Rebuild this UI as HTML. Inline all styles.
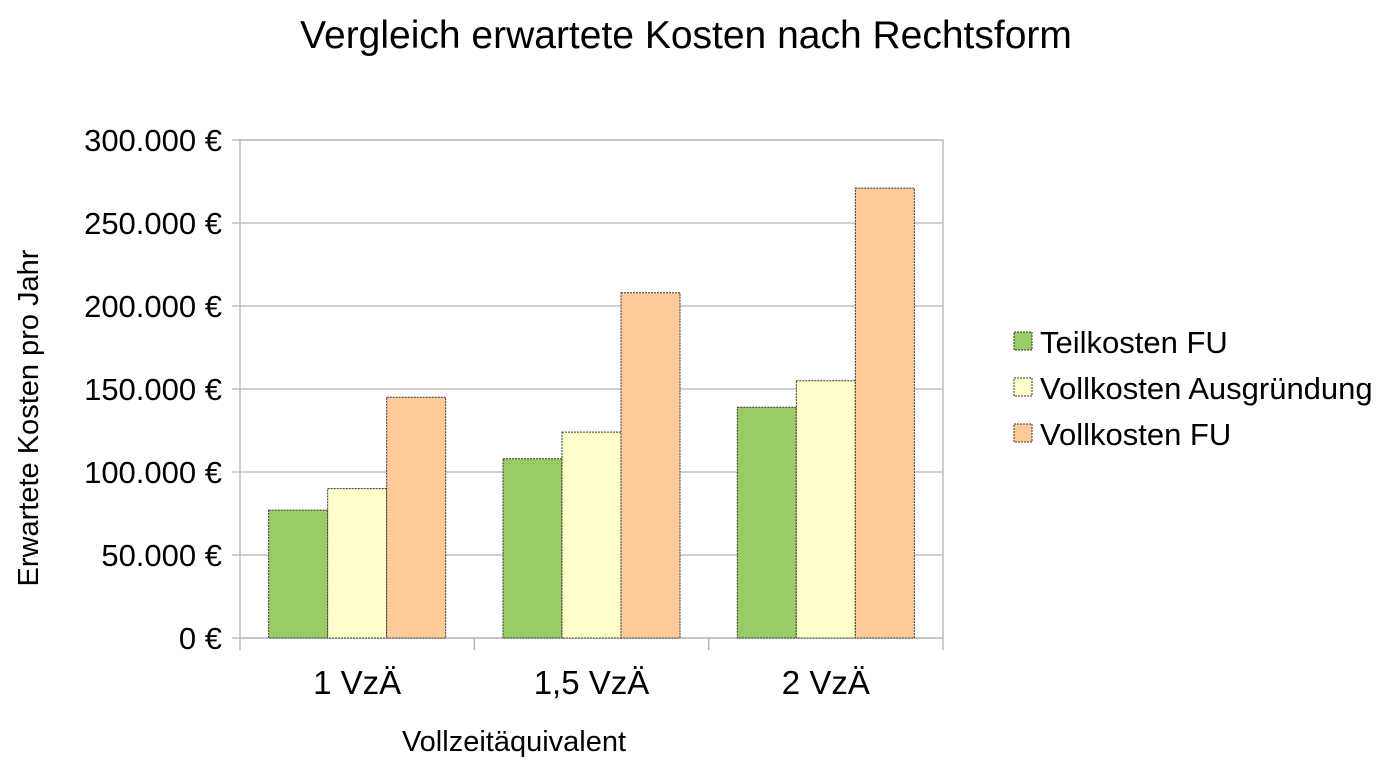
<!DOCTYPE html>
<html><head><meta charset="utf-8"><style>
body{margin:0;background:#fff;}
svg{display:block;font-family:"Liberation Sans",sans-serif;}
</style></head><body>
<svg id="chart" width="1389" height="776">
<text x="686" y="48" font-size="39" text-anchor="middle">Vergleich erwartete Kosten nach Rechtsform</text>
<text transform="translate(38,418) rotate(-90)" font-size="29" text-anchor="middle">Erwartete Kosten pro Jahr</text>
<text x="514" y="751" font-size="29" text-anchor="middle">Vollzeitäquivalent</text>
<g id="grid"></g><g id="bars"></g><g id="axes"></g><g id="legend"></g>
</svg>
<script>
const categories=["1 VzÄ","1,5 VzÄ","2 VzÄ"];
const seriesNames=["Teilkosten FU","Vollkosten Ausgründung","Vollkosten FU"];
const teilkostenFU=[77000,108000,139000];
const vollkostenAusgruendung=[90000,124000,155000];
const vollkostenFU=[145000,208000,271000];
const yTicks=[0,50000,100000,150000,200000,250000,300000];
const yTickLabels=["0 €","50.000 €","100.000 €","150.000 €","200.000 €","250.000 €","300.000 €"];
const colors=["#99cc66","#ffffcc","#ffcc99"];
const series=[teilkostenFU,vollkostenAusgruendung,vollkostenFU];
const NS="http://www.w3.org/2000/svg";
const X0=240,X1=943,Y0=638,Y1=140,YMAX=300000;
const y=v=>Y0-(v/YMAX)*(Y0-Y1);
const cw=(X1-X0)/categories.length;
const bw=59;
function mk(tag,attrs,parent){const e=document.createElementNS(NS,tag);for(const k in attrs)e.setAttribute(k,attrs[k]);parent.appendChild(e);return e;}
const grid=document.getElementById('grid'),bars=document.getElementById('bars'),axes=document.getElementById('axes'),legend=document.getElementById('legend');
yTicks.forEach((t,i)=>{
 const l=mk('line',{x1:X0-8,x2:X1,y1:y(t),y2:y(t),stroke:'#b3b3b3','stroke-width':1.3},grid);
 
 
 const tx=mk('text',{x:222,y:y(t)+11,'font-size':31,'text-anchor':'end'},axes);
 tx.textContent=yTickLabels[i];
 
 
});
const r=mk('rect',{x:X0,y:Y1,width:X1-X0,height:Y0-Y1,fill:'none',stroke:'#b3b3b3','stroke-width':1.3},grid);


for(let i=0;i<=categories.length;i++){
 const l=mk('line',{x1:X0+i*cw,x2:X0+i*cw,y1:Y0,y2:Y0+12,stroke:'#b3b3b3','stroke-width':1.3},axes);
 
 
}
categories.forEach((c,ci)=>{
 const cx=X0+cw*(ci+0.5);
 series.forEach((s,si)=>{
  const bx=cx-bw*1.5+si*bw;
  const b=mk('rect',{x:bx,y:y(s[ci]),width:bw,height:Y0-y(s[ci]),fill:colors[si],stroke:'#333','stroke-width':1,'stroke-dasharray':'2,1'},bars);
  
  
 });
 const t=mk('text',{x:cx,y:694,'font-size':33,'text-anchor':'middle'},axes);
 t.textContent=c;
 
 
});
seriesNames.forEach((n,i)=>{
 const ly=342+i*46;
 const sw=mk('rect',{x:1014,y:ly-10,width:18,height:18,fill:colors[i],stroke:'#333','stroke-width':1,'stroke-dasharray':'2,1'},legend);
 
 
 const t=mk('text',{x:1040,y:ly+11,'font-size':31},legend);
 t.textContent=n;
 
 
});
</script>
</body></html>
